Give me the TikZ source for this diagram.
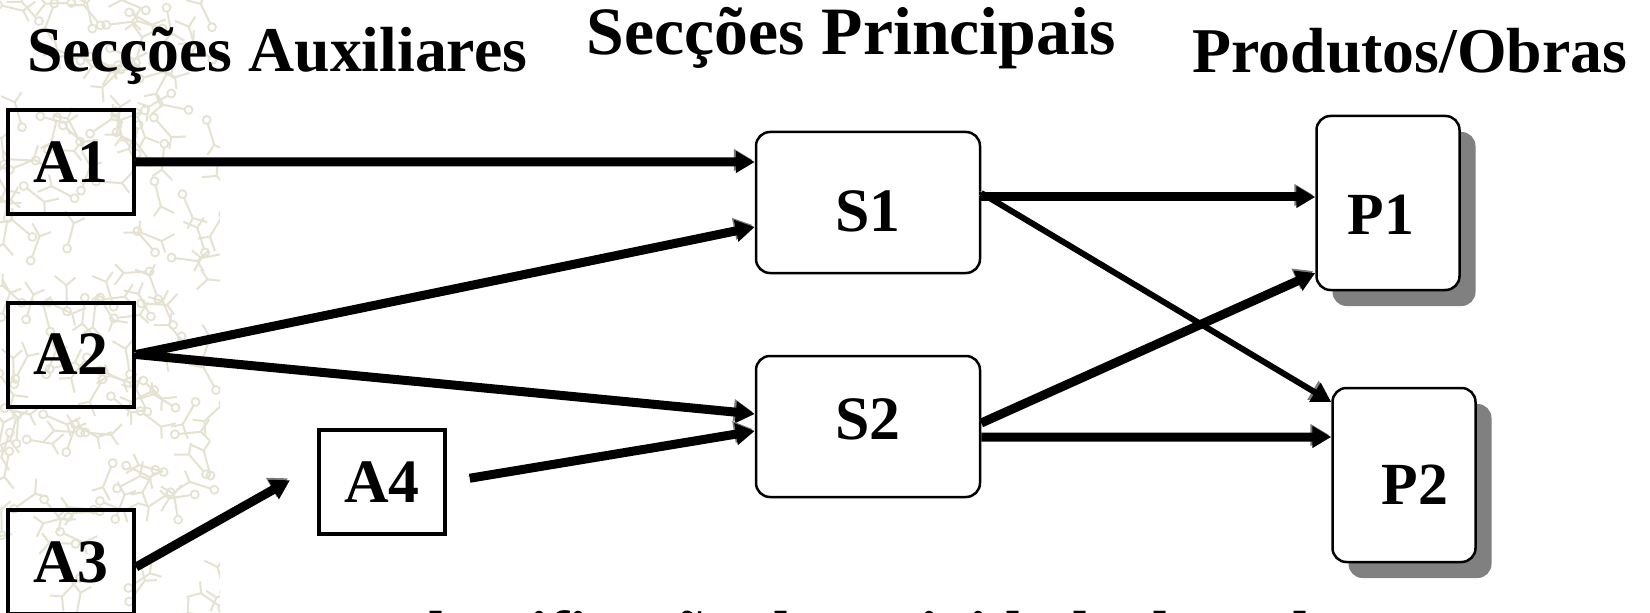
\documentclass[tikz,border=0pt]{standalone}
\usepackage{fontspec}
\setmainfont{Liberation Serif}
\usetikzlibrary{arrows.meta, shadows}
\definecolor{secink}{HTML}{000000}
\definecolor{secshade}{HTML}{808080}
\definecolor{secedge}{HTML}{7A7A7A}
\definecolor{secpaper}{HTML}{E6E2D2}

\begin{document}
\begin{tikzpicture}[
        x=1bp, y=-1bp,
        aux/.style={
            rectangle,
            draw=secink,
            line width=4bp,
            align=center,
            inner sep=0pt,
            minimum width=126bp,
            minimum height=104bp,
            font=\fontsize{62}{62}\selectfont\bfseries
        },
        sec/.style={
            rectangle,
            rounded corners=14bp,
            draw=secink,
            line width=2.5bp,
            fill=white,
            align=center,
            inner sep=0pt,
            text height=42bp,
            text depth=0bp,
            minimum width=224bp,
            minimum height=141bp,
            font=\fontsize{62}{62}\selectfont\bfseries
        },
        prod/.style={
            sec,
            minimum width=143bp,
            minimum height=174bp,
            font=\fontsize{60}{60}\selectfont\bfseries,
            drop shadow={shadow xshift=16bp, shadow yshift=-16bp,
                fill=secshade, opacity=1}
        },
        heading/.style={inner sep=0pt, font=\fontsize{64}{64}\selectfont\bfseries},
        flow/.style={-{Triangle[length=19bp, width=21bp]}, line width=9bp, draw=secink,
            preaction={draw=secedge, transform canvas={shift={(-2bp,2bp)}}}}
    ]
        \clip (0,0) rectangle (1650,613);
        \fill[white] (0,0) rectangle (1650,613);

        % faint background pattern on the left
        \begin{scope}
            \clip (0,0) rectangle (220,613);
            \pgfmathsetseed{11}
            \foreach \k in {1,...,150}{
                \pgfmathsetmacro\px{220*rnd}
                \pgfmathsetmacro\py{613*rnd}
                \pgfmathsetmacro\pa{360*rnd}
                \draw[secpaper, line width=2bp] (\px,\py) -- ++(\pa:22)
                    (\px,\py) -- ++(\pa+130:15)
                    (\px,\py) -- ++(\pa+230:12);
                \draw[secpaper, line width=1.8bp] (\px,\py) ++(\pa:26) circle (4);
            }
        \end{scope}

        \node[heading, anchor=base west] (auxhead) at (27,72) {Secções Auxiliares};
        \node[heading, anchor=base, font=\fontsize{68}{68}\selectfont\bfseries] (sechead) at (851,55) {Secções Principais};
        \node[heading, anchor=base] (prodhead) at (1410,73) {Produtos/Obras};

        \node[aux] (a1) at (71,162) {A1};
        \node[aux] (a2) at (71,354.5) {A2};
        \node[aux] (a3) at (71,562) {A3};
        \node[aux] (a4) at (382,482) {A4};

        \node[sec] (s1) at (868,202.5) {\raisebox{-8bp}{S1}};
        \node[sec] (s2) at (868,426.5) {\raisebox{8bp}{S2}};

        \node[prod] (p1) at (1388,203) {\raisebox{-10bp}{P1}\hspace*{14bp}};
        \node[prod] (p2) at (1404,475) {\hspace*{22bp}\raisebox{-8bp}{P2}};

        \draw[flow] (a1.east) -- ([yshift=40.5bp]s1.west);
        \draw[flow] (a2.east) -- ([yshift=-24.5bp]s1.west);
        \draw[flow] (a2.east) -- ([yshift=12.5bp]s2.west);
        \draw[flow, shorten >=31bp] ([yshift=-5bp]a3.east) -- ([yshift=17bp]a4.west);
        \draw[flow, shorten <=23bp] (a4.east) -- ([yshift=-4.5bp]s2.west);

        \draw[flow] ([yshift=5.5bp]s1.east) -- ([yshift=6bp]p1.west);
        \draw[flow, line width=6bp] ([yshift=9.5bp]s1.east) -- ([yshift=73bp]p2.west);
        \draw[flow] ([yshift=3.5bp]s2.east) -- ([yshift=-70bp]p1.west);
        \draw[flow] ([yshift=-10.5bp]s2.east) -- ([yshift=38bp]p2.west);

        \node[heading, anchor=base west] (note) at (385,655) {Identificação da actividade de cada centro};
    \end{tikzpicture}
\end{document}
